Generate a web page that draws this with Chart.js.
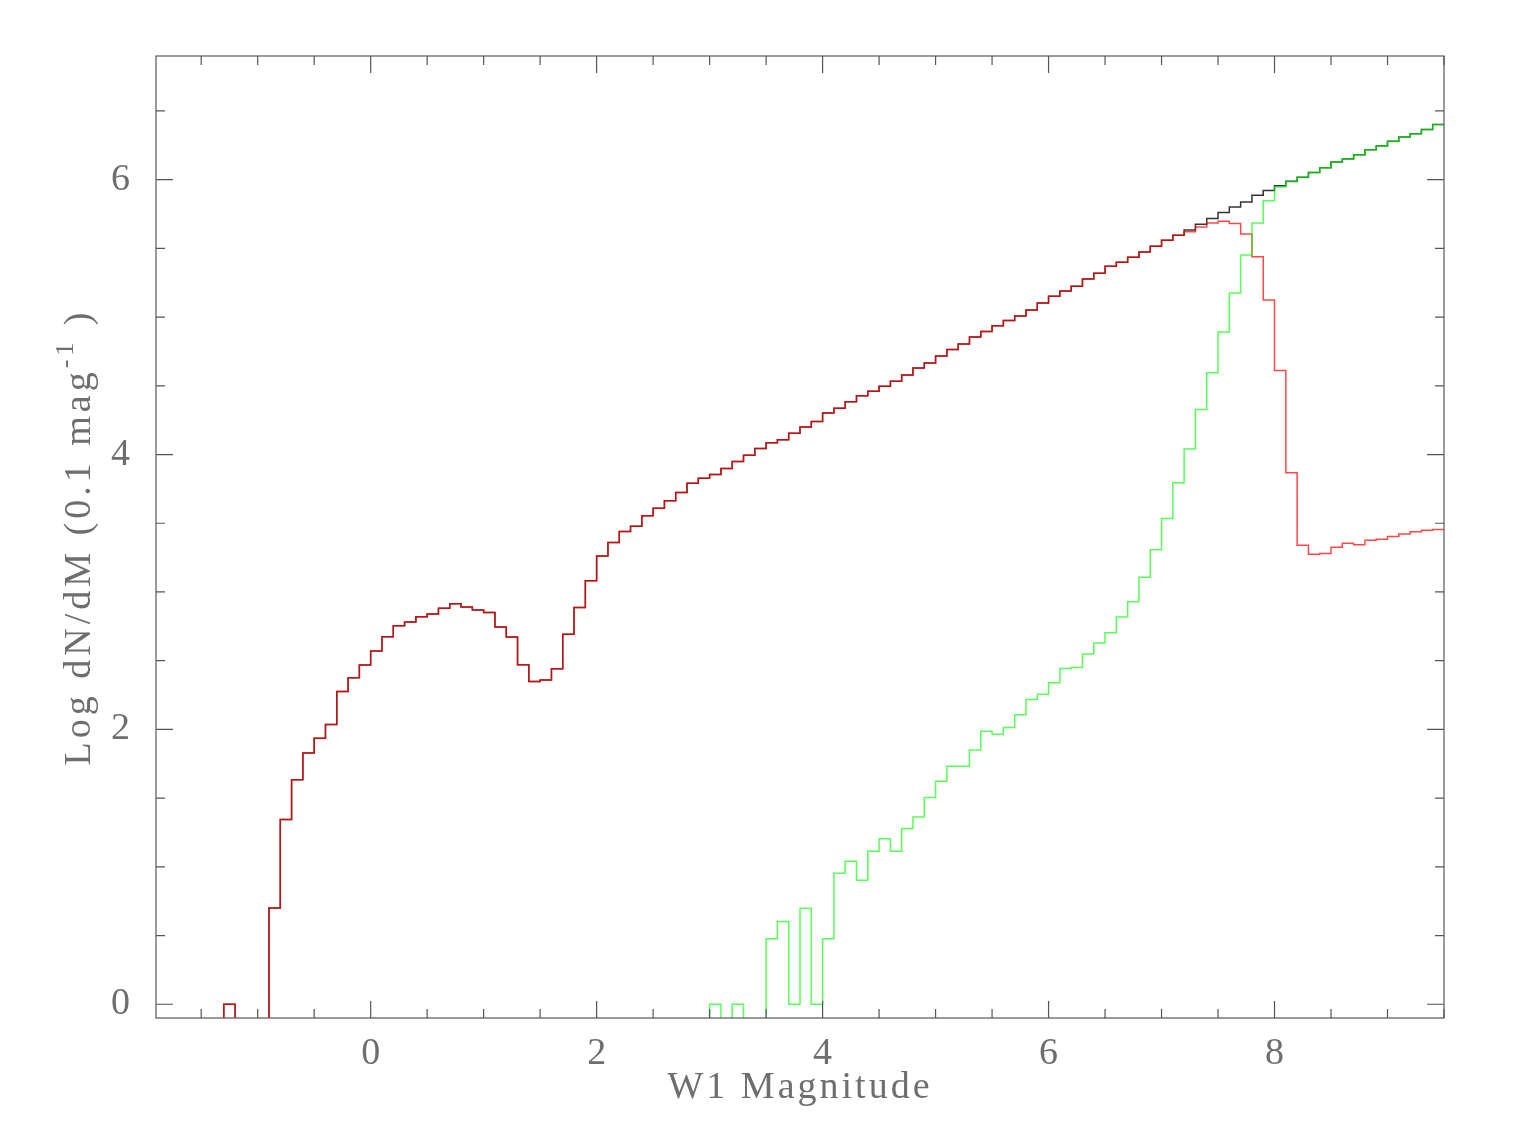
<!DOCTYPE html>
<html>
<head>
<meta charset="utf-8">
<title>W1 magnitude histogram</title>
<script src="https://cdn.jsdelivr.net/npm/chart.js@4.4.1/dist/chart.umd.min.js"></script>
<style>
  html, body { margin: 0; padding: 0; background: #ffffff; }
  #wrap { width: 1536px; height: 1148px; }
</style>
</head>
<body>
<div id="wrap"><canvas id="histChart" width="1536" height="1148"></canvas></div>
<script>
// bins are 0.1 mag wide, first left edge at -1.4; null = empty bin (log of zero)
const binStart = -1.4
const binWidth = 0.1

// total counts (black)
const totalLog = [
  null, 0, null, null, null, 0.70, 1.345, 1.634, 1.828, 1.935,
  2.036, 2.276, 2.376, 2.468, 2.570, 2.674, 2.754, 2.781, 2.820, 2.839,
  2.882, 2.914, 2.890, 2.868, 2.850, 2.745, 2.672, 2.470, 2.349, 2.359,
  2.441, 2.693, 2.887, 3.081, 3.261, 3.360, 3.440, 3.479, 3.554, 3.610,
  3.663, 3.724, 3.791, 3.828, 3.854, 3.898, 3.949, 3.994, 4.044, 4.085,
  4.107, 4.155, 4.201, 4.240, 4.303, 4.337, 4.385, 4.427, 4.461, 4.497,
  4.533, 4.579, 4.630, 4.667, 4.717, 4.764, 4.805, 4.856, 4.895, 4.938,
  4.975, 5.009, 5.052, 5.103, 5.152, 5.190, 5.224, 5.277, 5.319, 5.370,
  5.399, 5.435, 5.474, 5.515, 5.559, 5.595, 5.634, 5.675, 5.718, 5.762,
  5.801, 5.838, 5.886, 5.922, 5.956, 5.988, 6.017, 6.053, 6.087, 6.129,
  6.150, 6.182, 6.218, 6.245, 6.279, 6.311, 6.335, 6.366, 6.402
]

// red component
const redLog = [
  null, 0, null, null, null, 0.70, 1.345, 1.634, 1.828, 1.935,
  2.036, 2.276, 2.376, 2.468, 2.570, 2.674, 2.754, 2.781, 2.820, 2.839,
  2.882, 2.914, 2.890, 2.868, 2.850, 2.745, 2.672, 2.470, 2.349, 2.359,
  2.441, 2.693, 2.887, 3.081, 3.261, 3.360, 3.440, 3.479, 3.554, 3.610,
  3.663, 3.724, 3.791, 3.828, 3.854, 3.898, 3.949, 3.994, 4.044, 4.085,
  4.107, 4.155, 4.201, 4.240, 4.303, 4.337, 4.385, 4.427, 4.461, 4.497,
  4.533, 4.579, 4.630, 4.667, 4.717, 4.764, 4.805, 4.856, 4.895, 4.938,
  4.975, 5.009, 5.052, 5.103, 5.152, 5.190, 5.224, 5.277, 5.319, 5.370,
  5.399, 5.435, 5.474, 5.515, 5.559, 5.595, 5.622, 5.656, 5.684, 5.698,
  5.682, 5.605, 5.440, 5.125, 4.611, 3.867, 3.340, 3.275, 3.280, 3.326,
  3.355, 3.343, 3.377, 3.384, 3.404, 3.421, 3.438, 3.450, 3.455
]

// green component
const greenLog = [
  null, null, null, null, null, null, null, null, null, null,
  null, null, null, null, null, null, null, null, null, null,
  null, null, null, null, null, null, null, null, null, null,
  null, null, null, null, null, null, null, null, null, null,
  null, null, null, null, 0, null, 0, null, null, 0.477,
  0.602, 0, 0.699, 0, 0.477, 0.954, 1.041, 0.903, 1.114, 1.204,
  1.114, 1.279, 1.362, 1.505, 1.623, 1.732, 1.732, 1.851, 1.987, 1.964,
  2.013, 2.107, 2.217, 2.255, 2.340, 2.444, 2.450, 2.548, 2.628, 2.703,
  2.817, 2.928, 3.108, 3.307, 3.535, 3.794, 4.041, 4.327, 4.596, 4.892,
  5.176, 5.452, 5.685, 5.847, 5.947, 5.985, 6.015, 6.052, 6.086, 6.128,
  6.149, 6.181, 6.217, 6.244, 6.278, 6.310, 6.334, 6.365, 6.401
]

const xTickValues = [0, 2, 4, 6, 8]
const yTickValues = [0, 2, 4, 6]

const xMin = -1.9, xMax = 9.5
const yMin = -0.1, yMax = 6.9
const emptyLevel = -5 // where empty bins drop to (below the axis, clipped)

// histogram outline: one point per left bin edge, plus the final right edge
function toSteps(values) {
  const pts = values.map((v, i) => ({
    x: Math.round((binStart + i * binWidth) * 10) / 10,
    y: v === null ? emptyLevel : v
  }))
  const last = pts[pts.length - 1]
  pts.push({ x: Math.round((last.x + binWidth) * 10) / 10, y: last.y })
  return pts
}

const textColor = "#6e6e6e"
const axisColor = "#555555"
const serif = "'Liberation Serif', 'DejaVu Serif', serif"
const labelFont = { family: serif, size: 38 }

// box with inward ticks on all four sides, PGPLOT style
const frameTicks = {
  id: "frameTicks",
  afterDraw(chart) {
    const { ctx, chartArea: a, scales } = chart
    const xs = scales.x, ys = scales.y
    ctx.save()
    ctx.strokeStyle = axisColor
    ctx.lineWidth = 1.2
    ctx.strokeRect(a.left, a.top, a.right - a.left, a.bottom - a.top)
    ctx.beginPath()
    for (let v = -1.5; v <= xMax + 1e-6; v += 0.5) {
      const px = xs.getPixelForValue(v)
      const len = Math.abs(v % 2) < 1e-6 ? 17 : 9
      ctx.moveTo(px, a.bottom); ctx.lineTo(px, a.bottom - len)
      ctx.moveTo(px, a.top); ctx.lineTo(px, a.top + len)
    }
    for (let v = 0; v <= yMax + 1e-6; v += 0.5) {
      const py = ys.getPixelForValue(v)
      const len = Math.abs(v % 2) < 1e-6 ? 17 : 9
      ctx.moveTo(a.left, py); ctx.lineTo(a.left + len, py)
      ctx.moveTo(a.right, py); ctx.lineTo(a.right - len, py)
    }
    ctx.stroke()
    ctx.restore()
  }
}

// axis titles, drawn by hand for the superscript and the wide letter spacing
const axisTitles = {
  id: "axisTitles",
  afterDraw(chart) {
    const { ctx, chartArea: a } = chart
    ctx.save()
    ctx.fillStyle = textColor
    ctx.textBaseline = "alphabetic"
    ctx.letterSpacing = "3px"

    // x title
    ctx.font = "38px " + serif
    ctx.textAlign = "center"
    ctx.fillText("W1 Magnitude", (a.left + a.right) / 2, 1098)

    // y title
    ctx.textAlign = "left"
    const main = "Log dN/dM (0.1 mag"
    const sup = "-1"
    const tail = " )"
    ctx.translate(90, (a.top + a.bottom) / 2)
    ctx.rotate(-Math.PI / 2)
    ctx.letterSpacing = "4px"
    ctx.font = "38px " + serif
    const wMain = ctx.measureText(main).width
    const wTail = ctx.measureText(tail).width
    ctx.font = "26px " + serif
    const wSup = ctx.measureText(sup).width
    let x = -(wMain + wSup + wTail) / 2
    ctx.font = "38px " + serif
    ctx.fillText(main, x, 0)
    x += wMain
    ctx.font = "26px " + serif
    ctx.fillText(sup, x, -17)
    x += wSup
    ctx.font = "38px " + serif
    ctx.fillText(tail, x, 0)
    ctx.restore()
  }
}

document.addEventListener("DOMContentLoaded", () => {
  const ctx = document.getElementById("histChart")
  new Chart(ctx, {
    type: "line",
    data: {
      datasets: [
        {
          label: "Green",
          data: toSteps(greenLog),
          borderColor: "rgba(0, 255, 0, 0.65)",
          borderWidth: 1.5,
          stepped: "before",
          pointRadius: 0,
          fill: false,
          order: 1
        },
        {
          label: "Red",
          data: toSteps(redLog),
          borderColor: "rgba(255, 0, 0, 0.72)",
          borderWidth: 1.5,
          stepped: "before",
          pointRadius: 0,
          fill: false,
          order: 2
        },
        {
          label: "Total",
          data: toSteps(totalLog),
          borderColor: "#333333",
          borderWidth: 1.5,
          stepped: "before",
          pointRadius: 0,
          fill: false,
          order: 3
        }
      ]
    },
    options: {
      responsive: false,
      devicePixelRatio: 1,
      animation: false,
      layout: { padding: { top: 56, right: 92, left: 0, bottom: 0 } },
      plugins: {
        legend: { display: false },
        tooltip: { enabled: false }
      },
      scales: {
        x: {
          type: "linear",
          min: xMin,
          max: xMax,
          afterBuildTicks: (s) => { s.ticks = xTickValues.map((v) => ({ value: v })) },
          afterFit: (s) => { s.height = 130 },
          grid: { display: false },
          border: { display: false },
          ticks: {
            color: textColor,
            font: labelFont,
            padding: 5,
            maxRotation: 0,
            autoSkip: false,
            callback: (v) => String(v)
          }
        },
        y: {
          type: "linear",
          min: yMin,
          max: yMax,
          afterBuildTicks: (s) => { s.ticks = yTickValues.map((v) => ({ value: v })) },
          afterFit: (s) => { s.width = 156 },
          grid: { display: false },
          border: { display: false },
          ticks: {
            color: textColor,
            font: labelFont,
            padding: 18,
            autoSkip: false,
            callback: (v) => String(v)
          }
        }
      }
    },
    plugins: [frameTicks, axisTitles]
  })
})
</script>
</body>
</html>
